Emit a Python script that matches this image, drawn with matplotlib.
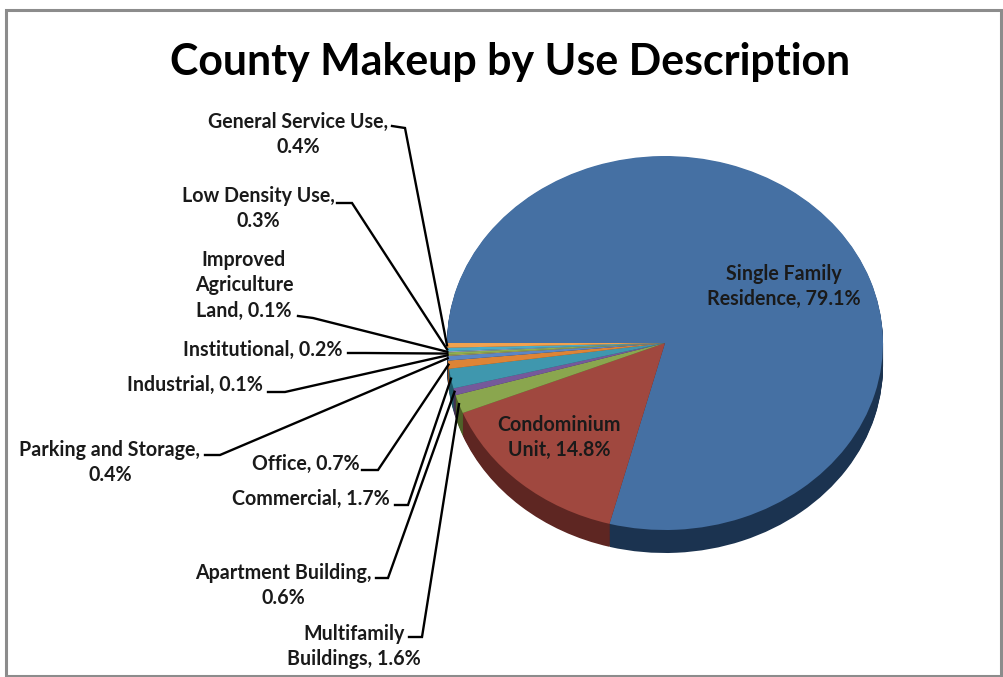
import numpy as np
import matplotlib
matplotlib.use("Agg")
import matplotlib.pyplot as plt
from matplotlib.patches import Rectangle

title = "County Makeup by Use Description"
categories = ["Single Family\nResidence", "Condominium\nUnit", "Multifamily\nBuildings",
              "Apartment Building,\n", "Commercial", "Office", "Parking and Storage,\n",
              "Industrial", "Institutional", "Improved\nAgriculture\nLand", "Low Density Use,\n",
              "General Service Use,\n"]
values = [79.1, 14.8, 1.6, 0.6, 1.7, 0.7, 0.4, 0.1, 0.2, 0.1, 0.3, 0.4]

colors = ["#4570A3", "#A0483F", "#8AA64E", "#75599A", "#3F97AE", "#DE8436",
          "#5C86C4", "#A8A060", "#8FB04E", "#8FA0B8", "#4BACC6", "#F2A24E"]
side_colors = ["#1B3350", "#5E2622", "#4E6128", "#3F3151", "#215968", "#8A4A1A",
               "#1B3350", "#5E2622", "#4E6128", "#3F3151", "#215968", "#8A4A1A"]

W, H = 1004, 677
cx, cy, rx, ry, depth = 665, 343, 218, 187, 23

# label layout: centre x, first line y, elbow start, elbow end (pixels)
layout = [
    (784, 274, None, None),
    (559, 425, None, None),
    (354, 634, (409, 637), (422, 637)),
    (283, 573, (376, 578), (388, 578)),
    (311, 499, (395, 505), (408, 505)),
    (306, 464, (362, 470), (378, 470)),
    (110, 450, (205, 455), (220, 455)),
    (195, 385, (268, 392), (285, 392)),
    (263, 350, (348, 353), (365, 353)),
    (244, 260, (298, 316), (313, 318)),
    (258, 196, (337, 203), (352, 203)),
    (298, 122, (392, 126), (405, 128)),
]

plt.rcParams["font.family"] = ["Lato", "DejaVu Sans"]
fig = plt.figure(figsize=(W / 100, H / 100), dpi=100, facecolor="white")

# pie axes: unit circle maps on to the ellipse
xm, ym = 1.1, 1.3
pie_ax = fig.add_axes([(cx - xm * rx) / W, 1 - (cy + ym * ry) / H,
                       2 * xm * rx / W, 2 * ym * ry / H])
d = depth / ry
for off in np.linspace(d, 0.004, 24):
    pie_ax.pie(values, colors=side_colors, startangle=180, counterclock=False, radius=1,
               center=(0, -off), wedgeprops=dict(linewidth=0))
pie_ax.pie(values, colors=colors, startangle=180, counterclock=False, radius=1,
           center=(0, 0), wedgeprops=dict(linewidth=0))
pie_ax.set_aspect("auto")
pie_ax.set_xlim(-xm, xm)
pie_ax.set_ylim(-ym, ym)
pie_ax.axis("off")

# overlay in pixel coordinates
ov = fig.add_axes([0, 0, 1, 1], facecolor="none")
ov.set_xlim(0, W)
ov.set_ylim(H, 0)
ov.axis("off")
ov.add_patch(Rectangle((6.5, 9.5), W - 9, H - 11, fill=False, edgecolor="#8C8C8C", linewidth=2.2))
ov.text(510, 62, title, ha="center", va="center", fontsize=30.9, fontweight="bold", color="black")

vals = np.array(values)
edges = 180 - 360 * np.cumsum(vals) / vals.sum()
mids = edges + 180 * vals / vals.sum()
line_h = 25.3
for cat, val, mid, (lx, ly, p0, p1) in zip(categories, values, mids, layout):
    name = cat.rstrip("\n")
    label = f"{name}, {val}%" if not name.endswith(",") else f"{name}\n{val}%"
    for i, line in enumerate(label.split("\n")):
        ov.text(lx, ly + i * line_h, line, ha="center", va="center", fontsize=14.1,
                fontweight="bold", color="#1A1A1A")
    if p0 is not None:
        a = np.radians(mid)
        rim = (cx + rx * np.cos(a), cy - ry * np.sin(a))
        ov.plot([p0[0], p1[0], rim[0]], [p0[1], p1[1], rim[1]], color="black", linewidth=1.7,
                solid_joinstyle="miter")

fig.savefig("out.png", dpi=100, facecolor="white")
